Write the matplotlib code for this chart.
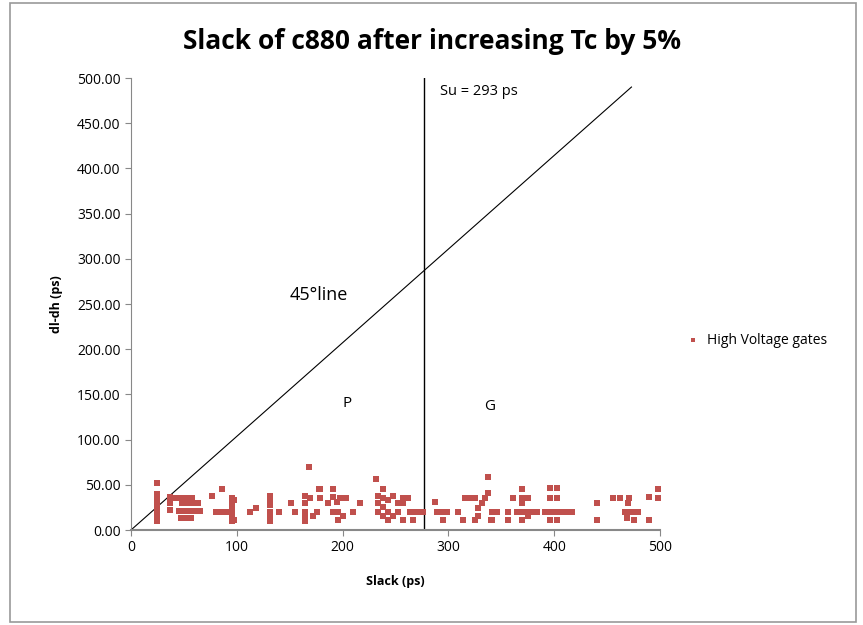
import numpy as np
import matplotlib.pyplot as plt
from matplotlib.patches import Rectangle

plt.rcParams['font.family'] = ['Open Sans', 'DejaVu Sans']

# High Voltage gates: slack (ps) vs dl-dh (ps)
slack = [25, 25, 25, 25, 25, 25, 25, 25, 37, 37, 37,
         43, 48, 53, 58, 63, 48, 53, 58, 45, 50, 55, 60, 65,
         47, 52, 57, 77, 86, 80, 86, 92, 95, 95, 95, 95, 95, 95,
         97, 97, 112, 118, 131, 131, 131, 131, 131, 131, 140, 151, 155,
         168, 164, 164, 164, 164, 164, 169, 172, 176, 178,
         179, 179, 186, 191, 191, 195, 198, 191, 196, 203, 191, 196, 200, 210, 216,
         232, 238, 233, 233, 233, 238, 238, 238, 243, 243, 243, 248, 248, 252, 252, 257, 257,
         262, 257, 264, 268, 272, 276, 267,
         287, 289, 294, 299, 295, 309, 314, 316, 320, 325, 332, 335, 337,
         325, 328, 328, 337, 341, 346, 340, 341, 356, 356, 361,
         370, 370, 370, 375, 365, 370, 375, 380, 384, 370, 375,
         396, 403, 396, 403, 391, 396, 401, 406, 411, 417, 396, 403,
         440, 440, 456, 462, 471, 470, 467, 471, 475, 479, 469, 475, 490, 490, 498, 498]
dl_dh = [52, 40, 35, 30, 25, 20, 15, 10, 36, 30, 22,
         35, 35, 35, 35, 30, 30, 30, 30, 21, 21, 21, 21, 21,
         13, 13, 13, 38, 45, 20, 20, 20, 35, 30, 25, 20, 15, 10,
         33, 11, 20, 24, 38, 33, 28, 20, 15, 10, 20, 30, 20,
         70, 38, 30, 20, 15, 10, 35, 16, 20, 45,
         45, 35, 30, 45, 36, 31, 35, 20, 11, 35, 20, 20, 16, 20, 30,
         56, 45, 38, 30, 20, 35, 25, 15, 33, 20, 11, 38, 16, 30, 20, 35, 11,
         35, 30, 20, 20, 20, 20, 11,
         31, 20, 20, 20, 11, 20, 11, 35, 35, 35, 30, 35, 41,
         11, 24, 16, 59, 20, 20, 11, 11, 20, 11, 35,
         45, 35, 30, 35, 20, 20, 20, 20, 20, 11, 15,
         46, 46, 35, 35, 20, 20, 20, 20, 20, 20, 11, 11,
         30, 11, 35, 35, 35, 30, 20, 20, 20, 20, 13, 11, 37, 11, 45, 35]

line_end_x = 473
line_end_y = 490
su_x = 277

fig = plt.figure(figsize=(8.63, 6.25), dpi=100)
ax = fig.add_axes([0.1518, 0.152, 0.613, 0.7232])

ax.scatter(slack, dl_dh, marker='s', s=14, color='#C0504D', linewidths=0,
           label='High Voltage gates', zorder=3)
ax.plot([0, line_end_x], [0, line_end_y], color='black', lw=0.8)
ax.axvline(su_x, color='black', lw=1.0)

ax.text(150, 254, '45°line', fontsize=13)
ax.text(200, 136, 'P', fontsize=11)
ax.text(334, 133, 'G', fontsize=11)
ax.text(292, 481, 'Su = 293 ps', fontsize=10.5)

ax.set_xlim(0, 500)
ax.set_ylim(0, 500)
ax.set_xticks(range(0, 501, 100))
ax.set_yticks(range(0, 501, 50))
ax.set_yticklabels(['%.2f' % v for v in range(0, 501, 50)])
ax.tick_params(labelsize=10, length=4, color='#888888')
for s in ['top', 'right']:
    ax.spines[s].set_visible(False)
ax.spines['left'].set_color('#888888')
ax.spines['bottom'].set_color('#888888')
ax.spines['bottom'].set_linewidth(1.5)

ax.set_xlabel('Slack (ps)', fontsize=9, fontweight='bold', labelpad=14)
ax.set_ylabel('dl-dh (ps)', fontsize=9, fontweight='bold', labelpad=10)
fig.suptitle('Slack of c880 after increasing Tc by 5%', fontsize=19,
             fontweight='bold', y=0.955)

ax.legend(loc='center left', bbox_to_anchor=(0.772, 0.455),
          bbox_transform=fig.transFigure, frameon=False, fontsize=10,
          handletextpad=0.0, markerscale=0.9)

fig.patches.append(Rectangle((0.012, 0.005), 0.98, 0.99, transform=fig.transFigure,
                             fill=False, edgecolor='#999999', lw=1.2))

fig.savefig('out.png', dpi=100)
